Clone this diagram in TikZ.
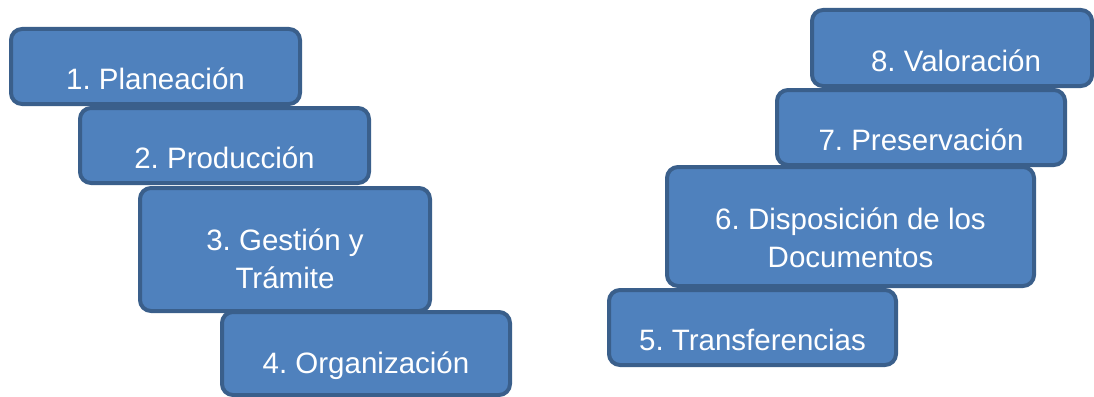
\documentclass[tikz,border=0pt]{standalone}
\usepackage{fontspec}
\setmainfont{Liberation Sans}
\frenchspacing
\definecolor{boxfill}{HTML}{4F81BD}
\definecolor{boxedge}{HTML}{3A5F8B}
\tikzset{
  stepbox/.style={draw=boxedge, fill=boxfill, line width=4pt, rounded corners=11pt, inner sep=0pt, outer sep=0pt},
  lbl/.style={text=white, font=\fontsize{29.5pt}{38pt}\selectfont\frenchspacing, inner sep=0pt, outer sep=0pt, align=center}
}
\begin{document}
\begin{tikzpicture}[x=1pt,y=-1pt]
\useasboundingbox (0,0) rectangle (1094,396);
% left column
\node[stepbox, minimum width=289pt, minimum height=75pt] (b1) at (155.5,66.5) {};
\node[lbl, anchor=base] (t1) at (155.5,89) {1. Planeación};
\node[stepbox, minimum width=289pt, minimum height=75pt] (b2) at (224.5,145.5) {};
\node[lbl, anchor=base] (t2) at (224.5,168) {2. Producción};
\node[stepbox, minimum width=290pt, minimum height=123pt] (b3) at (285,249.5) {};
\node[lbl, anchor=base] (t3) at (285,288) {3. Gestión y\\Trámite};
\node[stepbox, minimum width=288pt, minimum height=83pt] (b4) at (366,353.5) {};
\node[lbl, anchor=base] (t4) at (366,373) {4. Organización};
% right column
\node[stepbox, minimum width=280pt, minimum height=76pt] (b8) at (952,48) {};
\node[lbl, anchor=base] (t8) at (956,71) {8. Valoración};
\node[stepbox, minimum width=288pt, minimum height=75pt] (b7) at (921,127.5) {};
\node[lbl, anchor=base] (t7) at (921,150) {7. Preservación};
\node[stepbox, minimum width=367pt, minimum height=119pt] (b6) at (850.5,226.5) {};
\node[lbl, anchor=base] (t6) at (850.5,267) {6. Disposición de los\\Documentos};
\node[stepbox, minimum width=287pt, minimum height=75pt] (b5) at (752.5,327.5) {};
\node[lbl, anchor=base] (t5) at (752.5,350) {5. Transferencias};
\end{tikzpicture}
\end{document}
